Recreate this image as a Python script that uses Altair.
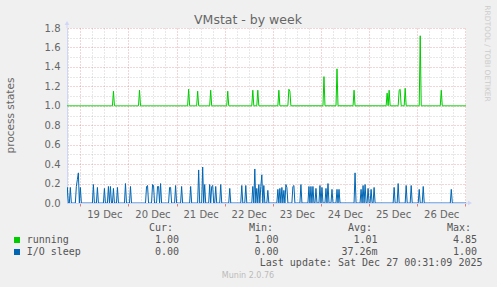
import altair as alt
import pandas as pd

# ---------------- data ----------------
running_times = ["19 16:30", "20 05:30", "21 06:00", "21 10:30", "21 17:00", "22 01:30",
                 "22 14:00", "22 16:30", "23 03:00", "23 08:00", "23 08:30", "24 01:30",
                 "24 08:00", "24 16:30", "25 09:00", "25 10:00", "25 15:00", "25 15:30",
                 "25 18:00", "26 01:30", "26 12:00"]
running_values = [1.15, 1.16, 1.17, 1.15, 1.16, 1.15,
                  1.16, 1.16, 1.16, 1.17, 1.15, 1.30,
                  1.38, 1.16, 1.13, 1.16, 1.16, 1.17,
                  1.18, 1.72, 1.16]

iosleep_times = ["18 17:30", "18 19:00", "18 22:00", "18 22:30", "18 23:00", "19 00:00",
                 "19 06:30", "19 08:30", "19 12:00", "19 14:00", "19 15:00", "19 16:30",
                 "19 18:30", "19 22:30", "20 01:00", "20 09:00", "20 09:30", "20 12:00",
                 "20 12:30", "20 14:30", "20 15:00", "20 16:00", "20 20:30", "20 21:00",
                 "20 23:30", "21 02:30", "21 07:00", "21 11:00", "21 13:00", "21 14:00",
                 "21 16:30", "21 17:30", "21 18:00", "21 19:30", "21 22:00", "22 02:30",
                 "22 08:30", "22 10:30", "22 14:00", "22 15:00", "22 16:00", "22 17:00",
                 "22 18:00", "22 18:30", "22 19:30", "22 21:30", "23 02:30", "23 03:30",
                 "23 04:30", "23 05:30", "23 06:30", "23 07:00", "23 10:00", "23 10:30",
                 "23 14:00", "23 18:00", "23 19:00", "23 20:00", "23 21:30", "23 23:30",
                 "24 00:30", "24 02:30", "24 03:30", "24 05:30", "24 08:00", "24 09:00",
                 "24 17:00", "24 20:00", "24 21:00", "24 22:00", "24 23:30", "25 01:00",
                 "25 02:30", "25 12:30", "25 14:30", "25 18:30", "25 21:00", "26 01:00",
                 "26 03:00", "26 17:00"]
iosleep_values = [0.16, 0.16, 0.17, 0.24, 0.31, 0.16,
                  0.19, 0.16, 0.15, 0.17, 0.17, 0.15,
                  0.16, 0.20, 0.17, 0.17, 0.18, 0.19,
                  0.18, 0.17, 0.17, 0.20, 0.16, 0.16,
                  0.18, 0.17, 0.17, 0.34, 0.37, 0.19,
                  0.19, 0.17, 0.18, 0.17, 0.19, 0.15,
                  0.18, 0.18, 0.17, 0.35, 0.15, 0.19,
                  0.17, 0.29, 0.18, 0.13, 0.14, 0.15,
                  0.16, 0.13, 0.19, 0.16, 0.17, 0.18,
                  0.19, 0.17, 0.17, 0.17, 0.15, 0.18,
                  0.16, 0.15, 0.20, 0.14, 0.14, 0.14,
                  0.31, 0.14, 0.18, 0.19, 0.15, 0.14,
                  0.16, 0.16, 0.20, 0.18, 0.18, 0.14,
                  0.17, 0.14]

series_names = ["running", "I/O sleep"]
series_colors = ["#00cc00", "#0066b3"]
stat_headers = ["Cur:", "Min:", "Avg:", "Max:"]
stat_cur = ["1.00", "0.00"]
stat_min = ["1.00", "0.00"]
stat_avg = ["1.01", "37.26m"]
stat_max = ["4.85", "1.00"]
y_major_ticks = [0.0, 0.2, 0.4, 0.6, 0.8, 1.0, 1.2, 1.4, 1.6, 1.8]
y_minor_ticks = [0.1, 0.3, 0.5, 0.7, 0.9, 1.1, 1.3, 1.5, 1.7]
day_ticks = [19, 20, 21, 22, 23, 24, 25, 26, 27]
title_text = "VMstat - by week"
y_title = "process states"
last_update = "Last update: Sat Dec 27 00:31:09 2025"
footer = "Munin 2.0.76"
watermark = "RRDTOOL / TOBI OETIKER"

# ---------------- build table ----------------
def ts(s):
    return pd.Timestamp("2025-12-" + s)

grid = pd.date_range("2025-12-18 17:00", "2025-12-27 00:30", freq="30min")
run = pd.Series(1.0, index=grid)
run.loc[[ts(t) for t in running_times]] = running_values
io = pd.Series(0.0, index=grid)
io.loc[[ts(t) for t in iosleep_times]] = iosleep_values
df = pd.DataFrame({"time": grid, "running": run.values, "io": io.values})

x_domain = [alt.DateTime(year=2025, month=12, date=18, hours=17, minutes=20),
            alt.DateTime(year=2025, month=12, date=27, hours=0, minutes=20)]
xscale = alt.Scale(domain=x_domain)
yscale = alt.Scale(domain=[0, 1.8], nice=False, zero=True)

minor_x = [alt.DateTime(year=2025, month=12, date=d, hours=h)
           for d in range(18, 27) for h in (6, 12, 18)
           if not (d == 18 and h < 18)]
major_x = [alt.DateTime(year=2025, month=12, date=d) for d in day_ticks]

GRID_GRAY = "#8c8c8c"
GRID_RED = "#c83030"
AXIS_COL = "#cfd6f8"
FONT_COL = "#666666"

green = alt.Chart(df).mark_line(color=series_colors[0], strokeWidth=1, clip=True).encode(
    x=alt.X("time:T", scale=xscale,
            axis=alt.Axis(values=minor_x, grid=True, gridColor=GRID_GRAY, gridOpacity=0.4,
                          gridDash=[1, 2], labels=False, ticks=False, domain=False,
                          title=None, orient="bottom")),
    y=alt.Y("running:Q", scale=yscale,
            axis=alt.Axis(values=y_minor_ticks, grid=True, gridColor=GRID_GRAY, gridOpacity=0.4,
                          gridDash=[1, 2], labels=False, ticks=False, domain=False,
                          title=None, orient="left")),
)

blue = alt.Chart(df).mark_line(color=series_colors[1], strokeWidth=1, clip=True).encode(
    x=alt.X("time:T", scale=xscale,
            axis=alt.Axis(values=major_x, grid=True, gridColor=GRID_RED, gridOpacity=0.4,
                          gridDash=[1, 2], ticks=True, tickColor=GRID_RED, tickOpacity=0.6,
                          tickSize=3, domain=True, domainColor=AXIS_COL,
                          labelExpr="date(datum.value) == 27 ? '' : timeFormat(datum.value, '%d %b')",
                          labelOffset=24, labelPadding=3, labelOverlap=False, labelFlush=False,
                          labelFont="DejaVu Sans", labelFontSize=10, labelColor=FONT_COL,
                          title=None, orient="bottom")),
    y=alt.Y("io:Q", scale=yscale,
            axis=alt.Axis(values=y_major_ticks, format=".1f", grid=True, gridColor=GRID_RED,
                          gridOpacity=0.4, gridDash=[1, 2], ticks=False, domain=True,
                          domainColor=AXIS_COL, labelPadding=7, labelFont="DejaVu Sans",
                          labelFontSize=10, labelColor=FONT_COL, title=None, orient="left")),
)

one = pd.DataFrame({"a": [0]})

def txt(text, x, y, size=10, font="DejaVu Sans Mono", color="#555555", align="left",
        angle=0, baseline="middle"):
    return alt.Chart(one).mark_text(font=font, fontSize=size, color=color, align=align,
                                    angle=angle, baseline=baseline).encode(
        x=alt.value(x), y=alt.value(y), text=alt.value(text))

OX, OY = 67, 28  # plot origin inside the page
layers = [green, blue]

# axis arrows
layers.append(alt.Chart(one).mark_rule(color=AXIS_COL).encode(
    x=alt.value(0), y=alt.value(-4), y2=alt.value(0)))
layers.append(alt.Chart(one).mark_point(shape="triangle-up", filled=True, size=22,
                                        color=AXIS_COL, opacity=1).encode(
    x=alt.value(0), y=alt.value(-5)))
layers.append(alt.Chart(one).mark_rule(color=AXIS_COL).encode(
    x=alt.value(399), x2=alt.value(402), y=alt.value(175)))
layers.append(alt.Chart(one).mark_point(shape="triangle-right", filled=True, size=22,
                                        color=AXIS_COL, opacity=1).encode(
    x=alt.value(403), y=alt.value(175)))

# texts
layers.append(txt(title_text, 248 - OX, 19.5 - OY, size=12.5, font="DejaVu Sans",
                  color=FONT_COL, align="center"))
layers.append(txt(y_title, 11 - OX, 115.5 - OY, size=10.5, font="DejaVu Sans",
                  color=FONT_COL, align="center", angle=270))
layers.append(txt(watermark, 487 - OX, 53.5 - OY, size=7.5, font="DejaVu Sans",
                  color="#cccccc", align="center", angle=90))

header_x = [149, 249, 348, 447]
for h, hx in zip(stat_headers, header_x):
    layers.append(txt(h, hx - OX, 227.7 - OY))

row_y = [240, 252]
value_right = [179, 278.5, 377.5, 477]
for i, name in enumerate(series_names):
    ry = row_y[i] - OY
    layers.append(alt.Chart(one).mark_square(size=36, filled=True, opacity=1,
                                             color=series_colors[i]).encode(
        x=alt.value(17 - OX), y=alt.value(ry)))
    layers.append(txt(name, 26.7 - OX, ry))
    for col, vr in zip([stat_cur, stat_min, stat_avg, stat_max], value_right):
        layers.append(txt(col[i], vr - OX, ry, align="right"))

layers.append(txt(last_update, 482.5 - OX, 263.3 - OY, align="right"))
layers.append(txt(footer, 248 - OX, 276.3 - OY, size=8, font="DejaVu Sans",
                  color="#bbbbbb", align="center"))

chart = alt.layer(*layers).resolve_axis(x="independent", y="independent").properties(
    width=399, height=175,
    padding={"left": OX, "top": OY, "right": 497 - OX - 399, "bottom": 287 - OY - 175},
    autosize=alt.AutoSizeParams(type="none"),
    background="#f0f0f0",
).configure_view(fill="white", stroke=None)

chart.save("out.html", embed_options={"renderer": "svg", "actions": False})
